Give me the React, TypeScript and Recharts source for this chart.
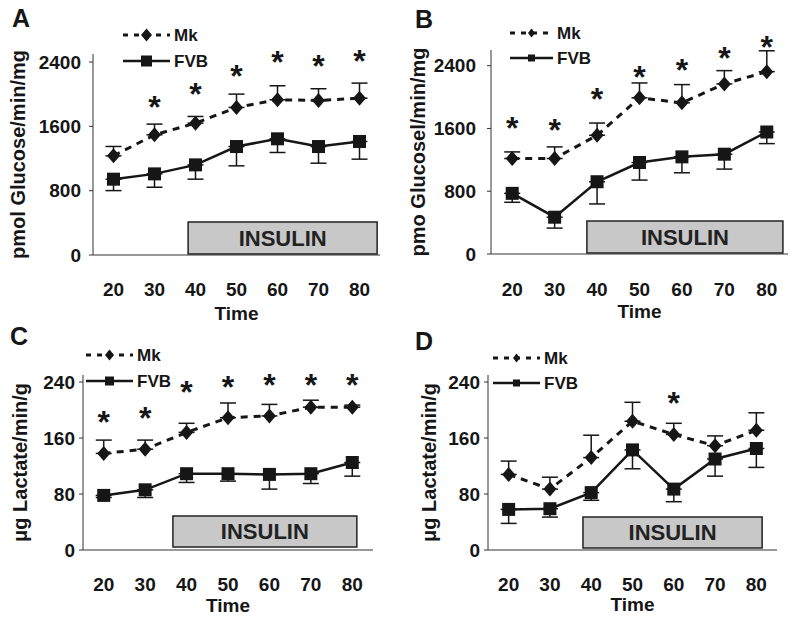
import { LineChart, Line, XAxis, YAxis, ErrorBar, ReferenceArea, ReferenceDot, Legend } from 'recharts'

const times = [20, 30, 40, 50, 60, 70, 80]
const timeEdges = [15, 25, 35, 45, 55, 65, 75, 85]
const glucoseTicks = [0, 800, 1600, 2400]
const lactateTicks = [0, 80, 160, 240]

// A: glucose, pmol/min/mg
const mkA = [1233, 1495, 1640, 1835, 1931, 1922, 1951]
const mkErrA = [117, 133, 83, 166, 174, 146, 187]
const fvbA = [943, 1009, 1121, 1349, 1445, 1349, 1412]
const fvbErrA = [142, 166, 178, 240, 170, 207, 220]
const starsA = [null, 1910, 2076, 2296, 2471, 2429, 2491]
const insulinA = [38.2, 84.3, 12, 410]

// B
const mkB = [1217, 1217, 1513, 1990, 1927, 2168, 2324]
const mkErrB = [84, 148, 156, 190, 232, 169, 266]
const fvbB = [773, 469, 921, 1166, 1238, 1272, 1555]
const fvbErrB = [114, 139, 283, 224, 203, 190, 148]
const starsB = [1682, 1660, 2053, 2336, 2421, 2569, 2717]
const insulinB = [37.6, 83.8, 13, 421]

// C: lactate, ug/min/g
const mkC = [138, 144, 168, 189, 191.5, 204, 204]
const mkErrC = [19, 13, 13, 21, 16.5, 10, 3]
const fvbC = [78, 86, 109, 109, 108, 109, 125]
const fvbErrC = [3, 11, 12.5, 10.6, 21, 14, 19.5]
const starsC = [192, 197, 235, 241, 244, 244, 244]
const insulinC = [36.7, 81.1, 4.3, 48.6]

// D
const mkD = [108, 87, 132, 184, 165, 149, 171]
const mkErrD = [19, 17, 32, 27, 16, 14, 25]
const fvbD = [58, 59, 82, 143, 87, 130, 145]
const fvbErrD = [20, 12, 11, 27, 18, 24.5, 27]
const starsD = [null, null, null, null, 219, null, null]
const insulinD = [38, 81.4, 2.9, 47]

const ink = '#161616'
const font = "'Liberation Sans', Arial, Helvetica, sans-serif"
const narrow = "'Liberation Sans Narrow', 'Arial Narrow', 'Liberation Sans', Arial, sans-serif"

const Diamond = (p: any) => {
  const { cx, cy } = p
  if (cx == null || cy == null) return null
  const w = 13, h = 15
  return <polygon points={`${cx},${cy - h / 2} ${cx + w / 2},${cy} ${cx},${cy + h / 2} ${cx - w / 2},${cy}`} fill={ink} />
}

const Square = (p: any) => {
  const { cx, cy } = p
  if (cx == null || cy == null) return null
  const s = 13
  return <rect x={cx - s / 2} y={cy - s / 2} width={s} height={s} fill={ink} />
}

const Star = (p: any) => (
  <text x={p.cx} y={p.cy + 17} textAnchor="middle" fontSize={32} fontWeight="bold" fill={ink} fontFamily={font}>*</text>
)

function LegendBox({ payload, cfg }: any) {
  // Mk row on top, as in the figure
  const rows = [...(payload ?? [])].sort((a: any, b: any) => (a.dataKey === 'mk' ? -1 : 0) - (b.dataKey === 'mk' ? -1 : 0))
  return (
    <svg width={cfg.lineLen + 60} height={cfg.rowGap + 28} style={{ display: 'block', overflow: 'visible' }}>
      {rows.map((e: any, i: number) => {
        const y = 13 + i * cfg.rowGap
        const dashed = e.dataKey === 'mk'
        const mx = cfg.lineLen / 2
        const m = cfg.marker
        return (
          <g key={String(e.value)}>
            <line x1={0} x2={cfg.lineLen} y1={y} y2={y} stroke={ink} strokeWidth={dashed ? 3 : 2.5}
              strokeDasharray={dashed ? '5 6' : undefined} />
            {dashed
              ? <polygon points={`${mx},${y - m / 2 - 1} ${mx + m / 2},${y} ${mx},${y + m / 2 + 1} ${mx - m / 2},${y}`} fill={ink} />
              : <rect x={mx - m / 2} y={y - m / 2} width={m} height={m} fill={ink} />}
            <text x={cfg.lineLen + 4} y={y + 6} fontSize={17} fontWeight="bold" fill={ink} fontFamily={font}>{e.value}</text>
          </g>
        )
      })}
    </svg>
  )
}

function Panel(props: any) {
  const { letter, yTitle, yMax, yTicks, mk, mkErr, fvb, fvbErr, stars, insulin, lay } = props
  const rows = times.map((t, i) => ({
    t,
    mk: mk[i],
    fvb: fvb[i],
    mkErr: [0, mkErr[i]],
    fvbErr: [fvbErr[i], 0],
  }))
  const tickStyle = { fontSize: 19, fontWeight: 'bold', fill: ink }
  return (
    <div style={{ position: 'absolute', left: lay.left, top: lay.top, width: lay.width, height: lay.height }}>
      <LineChart width={lay.width} height={lay.height} data={rows}
        margin={{ top: lay.plotTop, right: lay.right, bottom: 0, left: 0 }}>
        <XAxis xAxisId="edge" dataKey="t" type="number" domain={[15, 85]} ticks={timeEdges} interval={0}
          tick={false} tickSize={5} height={8} stroke="#333" />
        <XAxis xAxisId="lab" dataKey="t" type="number" domain={[15, 85]} ticks={times} interval={0}
          tickLine={false} axisLine={false} tickSize={0} tickMargin={lay.xTickMargin} height={lay.labelH}
          tick={tickStyle}
          label={{ value: 'Time', position: 'insideBottom', offset: lay.timeOffset, fontSize: 19, fontWeight: 'bold', fill: ink }} />
        <YAxis type="number" domain={[0, yMax]} ticks={yTicks} interval={0} width={lay.yAxisW}
          tickSize={4} tickMargin={lay.yTickMargin} stroke="#333" tick={tickStyle}
          label={{ value: yTitle, angle: -90, position: 'insideLeft', offset: lay.titleX, style: { textAnchor: 'middle' }, fontSize: 20, fontWeight: 'bold', fill: ink }} />
        <ReferenceArea xAxisId="lab" x1={insulin[0]} x2={insulin[1]} y1={insulin[2]} y2={insulin[3]}
          fill="#c8c8c8" fillOpacity={1} stroke="#222" strokeWidth={1.5}
          label={{ value: 'INSULIN', position: 'center', fontSize: 22, fontWeight: 'bold', fill: '#222', fontFamily: narrow }} />
        <Legend layout="vertical" align="center" verticalAlign="middle"
          wrapperStyle={{ left: lay.legend.x, top: lay.legend.y, width: lay.legend.lineLen + 60, height: lay.legend.rowGap + 28 }}
          content={(p: any) => <LegendBox payload={p.payload} cfg={lay.legend} />} />
        <Line xAxisId="lab" dataKey="mk" name="Mk" stroke={ink} strokeWidth={3} strokeDasharray="7 6"
          dot={<Diamond />} activeDot={false} isAnimationActive={false}>
          <ErrorBar dataKey="mkErr" direction="y" width={8} stroke={ink} strokeWidth={1.5} />
        </Line>
        <Line xAxisId="lab" dataKey="fvb" name="FVB" stroke={ink} strokeWidth={2.5}
          dot={<Square />} activeDot={false} isAnimationActive={false}>
          <ErrorBar dataKey="fvbErr" direction="y" width={8} stroke={ink} strokeWidth={1.5} />
        </Line>
        {stars.map((s: number | null, i: number) => s == null ? null : (
          <ReferenceDot key={i} xAxisId="lab" x={times[i]} y={s} ifOverflow="visible" shape={Star} />
        ))}
      </LineChart>
      <div style={{ position: 'absolute', left: lay.letterX, top: lay.letterTop, fontSize: 25, lineHeight: '25px', fontWeight: 'bold', color: ink }}>
        {letter}
      </div>
    </div>
  )
}

const layA = {
  left: 0, top: 0, width: 400, height: 330, plotTop: 54, right: 20, yAxisW: 93, labelH: 67,
  xTickMargin: 20, yTickMargin: 8, timeOffset: 10, titleX: 18, letterX: 12, letterTop: 6,
  legend: { x: 123, y: 22, lineLen: 47, rowGap: 26, marker: 11 },
}
const layB = {
  left: 400, top: 0, width: 400, height: 330, plotTop: 50, right: 12, yAxisW: 91, labelH: 68,
  xTickMargin: 21, yTickMargin: 11, timeOffset: 12, titleX: 18, letterX: 15, letterTop: 7,
  legend: { x: 110, y: 20, lineLen: 43, rowGap: 25, marker: 7 },
}
const layC = {
  left: 0, top: 320, width: 400, height: 301, plotTop: 55, right: 27, yAxisW: 83, labelH: 63,
  xTickMargin: 20, yTickMargin: 4, timeOffset: 9, titleX: 20, letterX: 10, letterTop: 4,
  legend: { x: 86, y: 22, lineLen: 47, rowGap: 26, marker: 9 },
}
const layD = {
  left: 400, top: 320, width: 400, height: 301, plotTop: 55, right: 23, yAxisW: 88, labelH: 63,
  xTickMargin: 20, yTickMargin: 4, timeOffset: 10, titleX: 29, letterX: 15, letterTop: 9,
  legend: { x: 93, y: 25, lineLen: 47, rowGap: 25, marker: 7 },
}

export default function App() {
  return (
    <div style={{ position: 'absolute', left: 0, top: 0, width: 800, height: 621, background: '#fff', fontFamily: font }}>
      <Panel letter="A" yTitle="pmol Glucose/min/mg" yMax={2500} yTicks={glucoseTicks}
        mk={mkA} mkErr={mkErrA} fvb={fvbA} fvbErr={fvbErrA} stars={starsA} insulin={insulinA} lay={layA} />
      <Panel letter="B" yTitle="pmo Glucosel/min/mg" yMax={2600} yTicks={glucoseTicks}
        mk={mkB} mkErr={mkErrB} fvb={fvbB} fvbErr={fvbErrB} stars={starsB} insulin={insulinB} lay={layB} />
      <Panel letter="C" yTitle="μg Lactate/min/g" yMax={250} yTicks={lactateTicks}
        mk={mkC} mkErr={mkErrC} fvb={fvbC} fvbErr={fvbErrC} stars={starsC} insulin={insulinC} lay={layC} />
      <Panel letter="D" yTitle="μg Lactate/min/g" yMax={250} yTicks={lactateTicks}
        mk={mkD} mkErr={mkErrD} fvb={fvbD} fvbErr={fvbErrD} stars={starsD} insulin={insulinD} lay={layD} />
    </div>
  )
}
